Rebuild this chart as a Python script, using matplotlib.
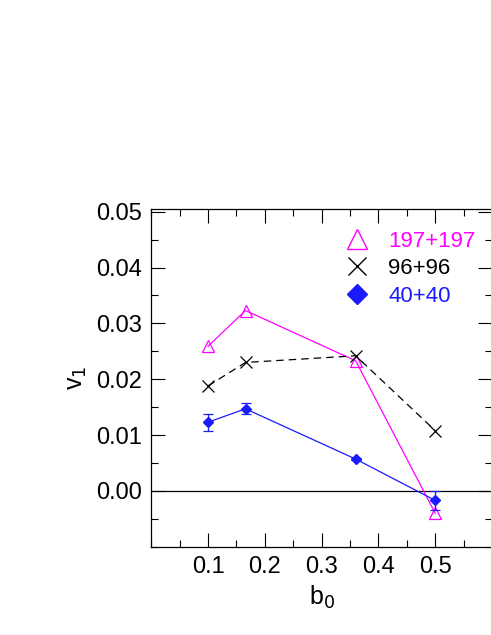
import matplotlib
matplotlib.use('Agg')
import matplotlib.pyplot as plt
from matplotlib.lines import Line2D
from matplotlib.ticker import MultipleLocator

plt.rcParams['font.family'] = ['Liberation Sans', 'DejaVu Sans']

# data
b0 = [0.1, 0.166, 0.36, 0.5]
v1_197 = [0.0259, 0.0323, 0.0233, -0.0040]
v1_96 = [0.0188, 0.0230, 0.0242, 0.0108]
v1_40 = [0.0123, 0.0147, 0.0057, -0.0017]
err_40 = [0.0015, 0.0010, 0.0002, 0.0017]

labels = ['197+197', '96+96', '40+40']
colors = ['#ff00ff', 'black', '#1a1aff']

fig = plt.figure(figsize=(4.91, 6.35), dpi=100)
ax = fig.add_axes([0.308, 0.139, 0.694, 0.532])

ax.axhline(0, color='black', lw=0.9)
ax.plot(b0, v1_197, color=colors[0], lw=0.9, marker='^', ms=8,
        mfc='none', mec=colors[0], mew=0.9)
ax.plot(b0, v1_96, color=colors[1], lw=0.9, ls=(0, (6, 4)), marker='x',
        ms=8, mew=0.9)
ax.errorbar(b0, v1_40, yerr=err_40, color=colors[2], lw=0.9, marker='D',
            ms=5, capsize=3.5, elinewidth=0.9, capthick=0.9)

ax.set_xlim(0, 0.6)
ax.set_ylim(-0.01, 0.0505)
ax.set_xticks([0.1, 0.2, 0.3, 0.4, 0.5])
ax.xaxis.set_minor_locator(MultipleLocator(0.05))
ax.set_yticks([0.0, 0.01, 0.02, 0.03, 0.04, 0.05])
ax.yaxis.set_minor_locator(MultipleLocator(0.005))
ax.set_yticklabels(['0.00', '0.01', '0.02', '0.03', '0.04', '0.05'])
ax.tick_params(which='both', direction='in', top=True, right=True,
               labelsize=17, pad=7)
ax.tick_params(which='major', length=10, width=0.8)
ax.tick_params(which='minor', length=5, width=0.8)
for s in ax.spines.values():
    s.set_linewidth(0.9)

ax.set_xlabel('b$_0$', fontsize=18, labelpad=4)
ax.set_ylabel('v$_1$', fontsize=18, labelpad=5)

handles = [
    Line2D([], [], ls='none', marker='^', ms=14, mfc='none', mec=colors[0], mew=1),
    Line2D([], [], ls='none', marker='x', ms=13, mec=colors[1], mew=1),
    Line2D([], [], ls='none', marker='D', ms=10, mfc=colors[2], mec=colors[2]),
]
leg = ax.legend(handles, labels, loc='upper right', frameon=False,
                fontsize=16, handlelength=1.0, handletextpad=0.9,
                labelspacing=0.3, bbox_to_anchor=(1.01, 0.995),
                labelcolor=colors)

fig.savefig('out.png', dpi=100)
